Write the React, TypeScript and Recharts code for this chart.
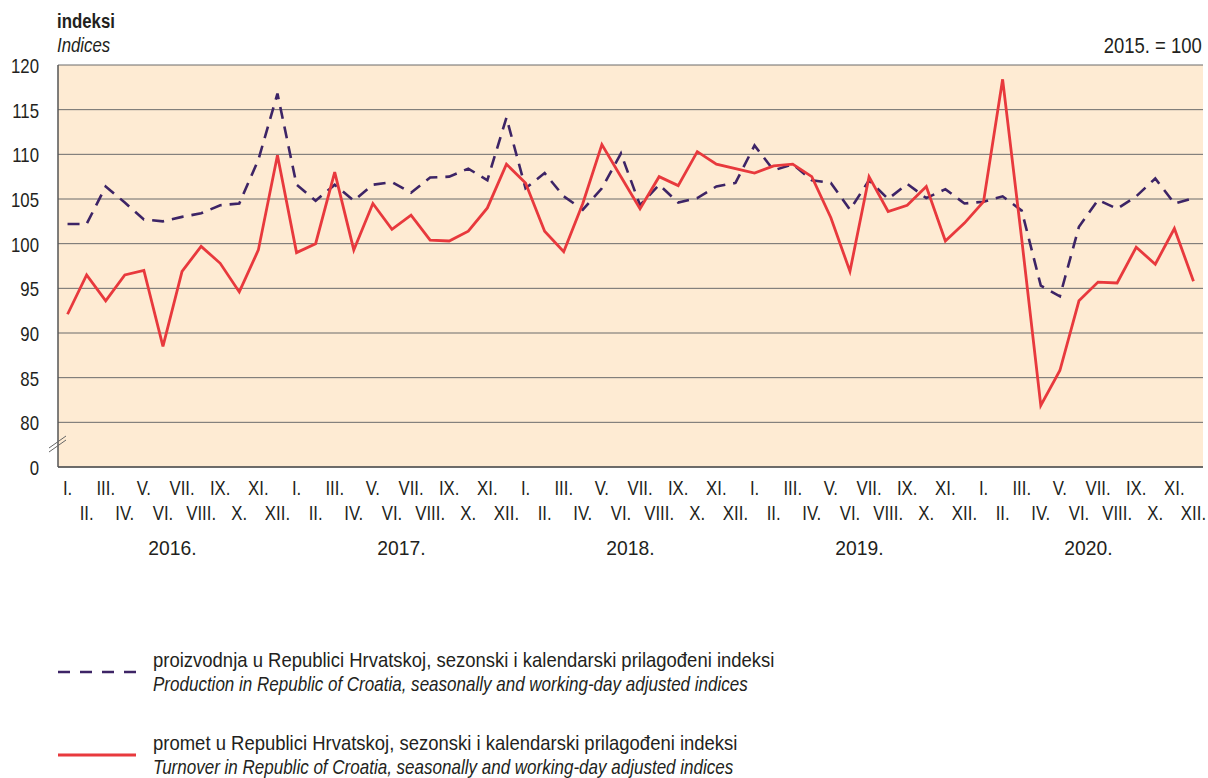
import React from "react";
import { LineChart, Line, XAxis, YAxis, CartesianGrid } from "recharts";

const months = ["I.", "II.", "III.", "IV.", "V.", "VI.", "VII.", "VIII.", "IX.", "X.", "XI.", "XII."];
const years = ["2016.", "2017.", "2018.", "2019.", "2020."];

// proizvodnja u RH, sezonski i kalendarski prilagođeni indeksi (2015. = 100)
const proizvodnja = [
  102.2, 102.2, 106.4, 104.6, 102.7, 102.5, 103.0, 103.4, 104.3, 104.5, 109.4, 116.8,
  106.6, 104.8, 106.6, 104.8, 106.6, 106.9, 105.7, 107.4, 107.5, 108.4, 107.1, 114.1,
  106.2, 107.9, 105.3, 103.8, 106.2, 110.1, 104.3, 106.6, 104.6, 105.1, 106.4, 106.8,
  111.0, 108.2, 108.9, 107.1, 106.8, 103.8, 107.1, 105.0, 106.7, 105.1, 106.1, 104.5,
  104.7, 105.3, 103.7, 95.3, 94.1, 101.9, 104.9, 103.9, 105.3, 107.3, 104.5, 105.1,
];

// promet u RH, sezonski i kalendarski prilagođeni indeksi
const promet = [
  92.1, 96.5, 93.6, 96.5, 97.0, 88.5, 96.9, 99.7, 97.8, 94.6, 99.3, 109.9,
  99.0, 100.0, 108.0, 99.3, 104.5, 101.6, 103.2, 100.4, 100.3, 101.4, 104.0, 108.9,
  106.8, 101.4, 99.1, 104.5, 111.1, 107.5, 103.9, 107.5, 106.5, 110.3, 108.9, 108.4,
  107.9, 108.7, 108.9, 107.5, 102.9, 96.9, 107.5, 103.6, 104.3, 106.4, 100.3, 102.3,
  104.7, 118.4, 100.5, 81.9, 85.8, 93.6, 95.7, 95.6, 99.6, 97.7, 101.7, 95.8,
];

// 75 stands in for the broken-axis "0"
const yTicks = [75, 80, 85, 90, 95, 100, 105, 110, 115, 120];

const data = years.flatMap((yr, yi) =>
  months.map((m, mi) => ({
    key: m + "|" + yr,
    year: yr,
    proizvodnja: proizvodnja[yi * 12 + mi],
    promet: promet[yi * 12 + mi],
  }))
);

const FONT = "'Liberation Sans', Arial, sans-serif";
const TXT = "#231f20";
const PURPLE = "#3d2466";
const RED = "#e8393d";

// condensed svg text (horizontal squeeze imitates a condensed face)
const NText = ({ x, y, anchor = "middle", size = 20, sq = 0.84, children }: any) => (
  <text
    transform={`translate(${x} ${y}) scale(${sq} 1)`}
    textAnchor={anchor}
    fontSize={size}
    fill={TXT}
    fontFamily={FONT}
  >
    {children}
  </text>
);

// condensed html text
const NSpan = ({ style, origin = "left top", sq = 0.84, children }: any) => (
  <div
    style={{
      position: "absolute",
      whiteSpace: "nowrap",
      transform: `scaleX(${sq})`,
      transformOrigin: origin,
      ...style,
    }}
  >
    {children}
  </div>
);

const MonthTick = (props: any) => {
  const { x, y, payload } = props;
  const m = String(payload.value).split("|")[0];
  const mi = months.indexOf(m);
  return <NText x={x} y={y + (mi % 2 === 0 ? 28 : 53)}>{m}</NText>;
};

const YearTick = (props: any) => {
  const { x, y, payload } = props;
  return <NText x={x} y={y + 28} size={21} sq={0.92}>{payload.value}</NText>;
};

const ValueTick = (props: any) => {
  const { x, y, payload } = props;
  const v = payload.value;
  return (
    <g>
      <NText x={x - 19} y={y + 8} anchor="end">{v === 75 ? "0" : v}</NText>
      {v === 75 && (
        <g stroke="#666" strokeWidth={1}>
          <line x1={x - 9} y1={y - 15} x2={x + 8} y2={y - 27} />
          <line x1={x - 9} y1={y - 19} x2={x + 8} y2={y - 31} />
        </g>
      )}
    </g>
  );
};

export default function App() {
  return (
    <div style={{ position: "absolute", left: 0, top: 0, width: 1208, height: 778, background: "#fff", fontFamily: FONT, color: TXT }}>
      <NSpan style={{ left: 57, top: 10, fontSize: 20, fontWeight: "bold", lineHeight: "22px" }}>indeksi</NSpan>
      <NSpan style={{ left: 57, top: 34, fontSize: 20, fontStyle: "italic", lineHeight: "22px" }}>Indices</NSpan>
      <NSpan origin="right top" style={{ right: 6, top: 35, fontSize: 22, lineHeight: "22px" }}>2015. = 100</NSpan>

      <LineChart width={1208} height={560} data={data} margin={{ top: 65, right: 5, left: 0, bottom: 0 }}>
        <CartesianGrid horizontal vertical={false} fill="#feebd3" stroke="#6b6b6b" strokeWidth={1} />
        <XAxis
          xAxisId="m"
          dataKey="key"
          scale="band"
          interval={0}
          height={60}
          tickSize={0}
          tickMargin={0}
          tickLine={false}
          axisLine={{ stroke: "#555", strokeWidth: 1.5 }}
          tick={<MonthTick />}
        />
        <XAxis
          xAxisId="y"
          dataKey="year"
          allowDuplicatedCategory={false}
          ticks={years}
          scale="band"
          interval={0}
          height={33}
          tickSize={0}
          tickMargin={0}
          tickLine={false}
          axisLine={false}
          tick={<YearTick />}
        />
        <YAxis
          type="number"
          domain={[75, 120]}
          ticks={yTicks}
          width={58}
          interval={0}
          tickSize={0}
          tickMargin={0}
          tickLine={false}
          axisLine={{ stroke: "#555", strokeWidth: 1.5 }}
          tick={<ValueTick />}
        />
        <Line
          xAxisId="m"
          type="linear"
          dataKey="proizvodnja"
          stroke={PURPLE}
          strokeWidth={2.6}
          strokeDasharray="12 8"
          dot={false}
          activeDot={false}
          isAnimationActive={false}
        />
        <Line
          xAxisId="m"
          type="linear"
          dataKey="promet"
          stroke={RED}
          strokeWidth={2.8}
          dot={false}
          activeDot={false}
          isAnimationActive={false}
        />
      </LineChart>

      <svg style={{ position: "absolute", left: 0, top: 640 }} width={150} height={138}>
        <line x1={58} y1={32} x2={136} y2={32} stroke={PURPLE} strokeWidth={2.6} strokeDasharray="12 10" />
        <line x1={58} y1={115} x2={136} y2={115} stroke={RED} strokeWidth={2.8} />
      </svg>
      <NSpan sq={0.88} style={{ left: 153, top: 648, fontSize: 21, lineHeight: "24px" }}>proizvodnja u Republici Hrvatskoj, sezonski i kalendarski prilagođeni indeksi</NSpan>
      <NSpan sq={0.81} style={{ left: 153, top: 672, fontSize: 21, lineHeight: "24px", fontStyle: "italic" }}>Production in Republic of Croatia, seasonally and working-day adjusted indices</NSpan>
      <NSpan sq={0.88} style={{ left: 153, top: 731, fontSize: 21, lineHeight: "24px" }}>promet u Republici Hrvatskoj, sezonski i kalendarski prilagođeni indeksi</NSpan>
      <NSpan sq={0.81} style={{ left: 153, top: 755, fontSize: 21, lineHeight: "24px", fontStyle: "italic" }}>Turnover in Republic of Croatia, seasonally and working-day adjusted indices</NSpan>
    </div>
  );
}
